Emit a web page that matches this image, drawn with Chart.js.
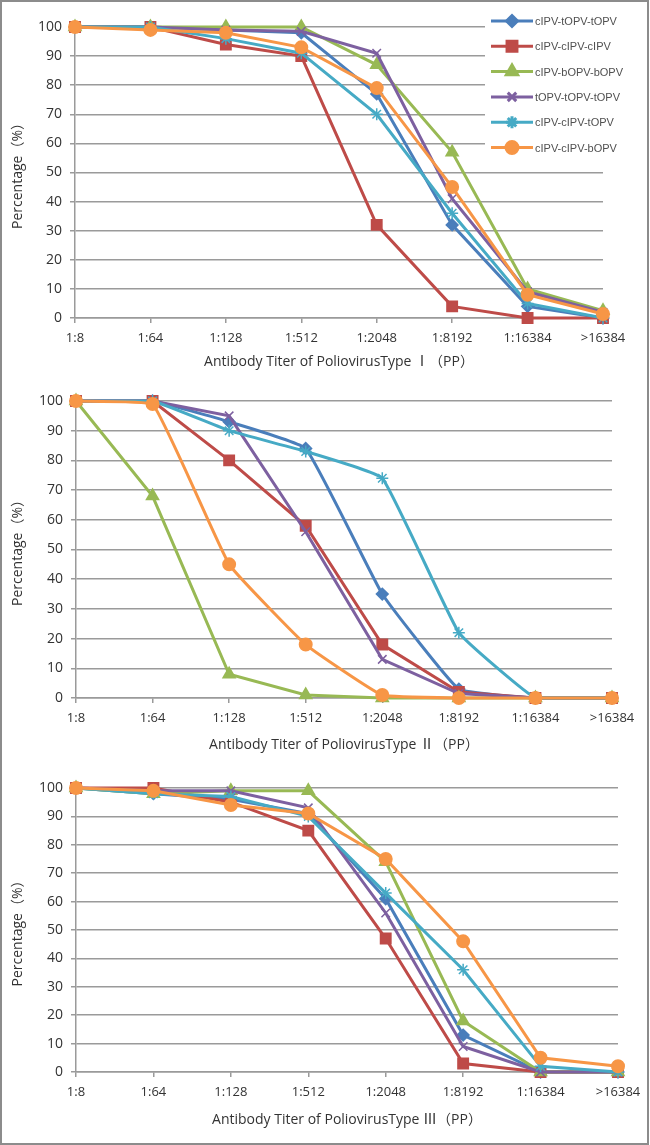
<!DOCTYPE html>
<html>
<head>
<meta charset="utf-8">
<script src="https://cdn.jsdelivr.net/npm/chart.js@4.4.1/dist/chart.umd.min.js"></script>
<style>
  html, body { margin: 0; padding: 0; background: #fff; }
  #page { position: relative; width: 650px; height: 1145px; overflow: hidden; }
  #frame { position: absolute; left: 0; top: 0; width: 649px; height: 1145px; box-sizing: border-box; border: 2px solid #8c8c8c; pointer-events: none; }
  canvas { position: absolute; left: 0; }
</style>
</head>
<body>
<div id="page">
  <canvas id="c1" width="650" height="375" style="top:0"></canvas>
  <canvas id="c2" width="650" height="385" style="top:375px"></canvas>
  <canvas id="c3" width="650" height="385" style="top:760px"></canvas>
  <div id="frame"></div>
</div>
<script>
// ===== DATA =====
const titers = ["1:8", "1:64", "1:128", "1:512", "1:2048", "1:8192", "1:16384", ">16384"];
const groups = ["cIPV-tOPV-tOPV", "cIPV-cIPV-cIPV", "cIPV-bOPV-bOPV", "tOPV-tOPV-tOPV", "cIPV-cIPV-tOPV", "cIPV-cIPV-bOPV"];
const yTicks = [0, 10, 20, 30, 40, 50, 60, 70, 80, 90, 100];

// Type I
const t1_cIPV_tOPV_tOPV = [100, 100, 99, 98, 77, 32, 4, 0];
const t1_cIPV_cIPV_cIPV = [100, 100, 94, 90, 32, 4, 0, 0];
const t1_cIPV_bOPV_bOPV = [100, 100, 100, 100, 87, 57, 10, 2.5];
const t1_tOPV_tOPV_tOPV = [100, 100, 99, 98.5, 91, 41, 9, 2];
const t1_cIPV_cIPV_tOPV = [100, 100, 96, 91, 70, 36, 5, 0];
const t1_cIPV_cIPV_bOPV = [100, 99, 98, 93, 79, 45, 8, 1.4];

// Type II
const t2_cIPV_tOPV_tOPV = [100, 100, 93, 84, 35, 3, 0, 0];
const t2_cIPV_cIPV_cIPV = [100, 100, 80, 58, 18, 2, 0, 0];
const t2_cIPV_bOPV_bOPV = [100, 68, 8, 1, 0, 0, 0, 0];
const t2_tOPV_tOPV_tOPV = [100, 100, 95, 56, 13, 1.5, 0, 0];
const t2_cIPV_cIPV_tOPV = [100, 100, 90, 83, 74, 22, 0, 0];
const t2_cIPV_cIPV_bOPV = [100, 99, 45, 18, 1, 0, 0, 0];

// Type III
const t3_cIPV_tOPV_tOPV = [100, 98, 96, 91, 61, 13, 0, 0];
const t3_cIPV_cIPV_cIPV = [100, 100, 95, 85, 47, 3, 0, 0];
const t3_cIPV_bOPV_bOPV = [100, 98, 99, 99, 74, 18, 0, 0];
const t3_tOPV_tOPV_tOPV = [100, 99, 99, 93, 56, 9, 0, 0];
const t3_cIPV_cIPV_tOPV = [100, 98, 97, 90, 63, 36, 2, 0];
const t3_cIPV_cIPV_bOPV = [100, 99, 94, 91, 75, 46, 5, 2];

// ===== STYLE =====
const colors = ["#4a7ebb", "#be4b48", "#98b954", "#7d60a0", "#46aac5", "#f79646"];
const markers = ["rectRot", "rect", "triangle", "crossRot", "star", "circle"];
const markerSize = [5.5, 7, 6.5, 6, 6, 6];
const markerBorder = [2, 2, 2, 1.5, 1.5, 2];
const FONT = "'Open Sans', 'Noto Sans CJK SC', sans-serif";
const GRID = "#9a9a9a";

function makeDatasets(values, tension) {
    return values.map((v, i) => ({
        label: groups[i],
        data: v,
        borderColor: colors[i],
        backgroundColor: colors[i],
        borderWidth: 3,
        pointStyle: markers[i],
        pointRadius: markerSize[i],
        pointBorderWidth: markerBorder[i],
        pointBackgroundColor: colors[i],
        pointBorderColor: colors[i],
        tension: tension[i],
        clip: false,
        order: 5 - i
    }));
}

// legend drawn inside the chart area (top right), like the original
const insideLegend = {
    id: "insideLegend",
    afterDraw(chart) {
        const ctx = chart.ctx;
        ctx.save();
        ctx.fillStyle = "#fff";
        ctx.fillRect(485, 6, 160, 154);
        chart.data.datasets.forEach((ds, i) => {
            const y = 21 + i * 25.3;
            ctx.strokeStyle = ds.borderColor;
            ctx.lineWidth = 3;
            ctx.beginPath();
            ctx.moveTo(491, y);
            ctx.lineTo(533, y);
            ctx.stroke();
            ctx.fillStyle = ds.borderColor;
            Chart.helpers.drawPoint(ctx, {
                pointStyle: ds.pointStyle,
                radius: ds.pointRadius,
                rotation: 0,
                borderWidth: ds.pointBorderWidth
            }, 512, y);
            ctx.fillStyle = "#505050";
            ctx.font = "11px 'Liberation Sans', sans-serif";
            ctx.textBaseline = "middle";
            ctx.fillText(ds.label, 535, y + 1);
        });
        ctx.restore();
    }
};

function makeChart(id, values, tension, typeName, box, extraPlugins) {
    return new Chart(document.getElementById(id), {
        type: "line",
        data: {
            labels: titers,
            datasets: makeDatasets(values, tension)
        },
        options: {
            responsive: false,
            animation: false,
            devicePixelRatio: 1,
            layout: {
                padding: { top: box.top, left: 10, right: box.right, bottom: box.bottom }
            },
            plugins: {
                legend: { display: false },
                tooltip: { enabled: false }
            },
            scales: {
                y: {
                    min: 0,
                    max: 100,
                    afterBuildTicks: (scale) => { scale.ticks = yTicks.map(v => ({ value: v })); },
                    afterFit: (scale) => { scale.width = box.yWidth; },
                    grid: { color: GRID, lineWidth: 1.5, tickLength: 5 },
                    border: { color: GRID, width: 1.5 },
                    ticks: { color: "#333", padding: 8, font: { family: FONT, size: 14 } },
                    title: {
                        display: true,
                        text: "Percentage（%）",
                        color: "#333",
                        padding: 0,
                        font: { family: FONT, size: 14 }
                    }
                },
                x: {
                    afterFit: (scale) => { scale.height = box.xHeight; },
                    grid: { color: GRID, lineWidth: 1.5, drawOnChartArea: false, tickLength: 5 },
                    border: { color: GRID, width: 1.5 },
                    ticks: { color: "#333", padding: 7, maxRotation: 0, autoSkip: false, font: { family: FONT, size: 13 } },
                    title: {
                        display: true,
                        text: "Antibody Titer of PoliovirusType " + typeName + "（PP）",
                        color: "#333",
                        padding: 0,
                        font: { family: FONT, size: 14 }
                    }
                }
            }
        },
        plugins: extraPlugins
    });
}

makeChart("c1",
    [t1_cIPV_tOPV_tOPV, t1_cIPV_cIPV_cIPV, t1_cIPV_bOPV_bOPV, t1_tOPV_tOPV_tOPV, t1_cIPV_cIPV_tOPV, t1_cIPV_cIPV_bOPV],
    [0, 0, 0, 0, 0, 0], "Ⅰ",
    { top: 27, right: 47, bottom: 5, yWidth: 65, xHeight: 52 }, [insideLegend]);

makeChart("c2",
    [t2_cIPV_tOPV_tOPV, t2_cIPV_cIPV_cIPV, t2_cIPV_bOPV_bOPV, t2_tOPV_tOPV_tOPV, t2_cIPV_cIPV_tOPV, t2_cIPV_cIPV_bOPV],
    [0.1, 0, 0, 0, 0.1, 0.1], "Ⅱ",
    { top: 26, right: 38, bottom: 6.6, yWidth: 66, xHeight: 55.4 }, []);

makeChart("c3",
    [t3_cIPV_tOPV_tOPV, t3_cIPV_cIPV_cIPV, t3_cIPV_bOPV_bOPV, t3_tOPV_tOPV_tOPV, t3_cIPV_cIPV_tOPV, t3_cIPV_cIPV_bOPV],
    [0, 0, 0, 0, 0, 0], "Ⅲ",
    { top: 28, right: 32, bottom: 16.6, yWidth: 66, xHeight: 56.4 }, []);
</script>
</body>
</html>
